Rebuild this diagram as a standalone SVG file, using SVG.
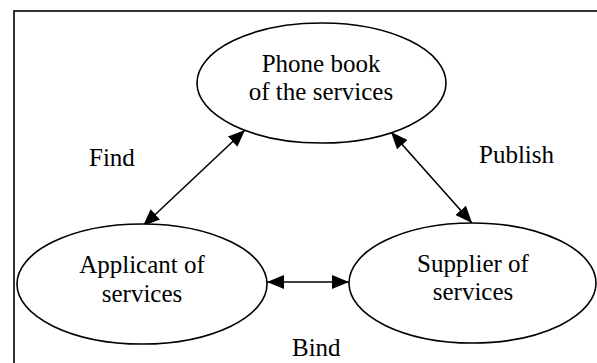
<svg xmlns="http://www.w3.org/2000/svg" width="597" height="363" viewBox="0 0 597 363">
  <style>
    .frame { fill: none; stroke: #000; stroke-width: 1.6; }
    .node ellipse { fill: #fff; stroke: #000; stroke-width: 1.6; }
    .lbl { font-family: "Liberation Serif", "Times New Roman", serif; font-size: 25px; fill: #000; }
    .node text { text-anchor: middle; }
    .edge { stroke: #000; stroke-width: 1.6; fill: none; marker-start: url(#head); marker-end: url(#head); }
  </style>
  <defs>
    <marker id="head" viewBox="0 0 17 14" refX="17" refY="7" markerWidth="17" markerHeight="14" markerUnits="userSpaceOnUse" orient="auto-start-reverse">
      <path d="M0,0 L17,7 L0,14 Z" fill="#000"/>
    </marker>
  </defs>

  <rect class="frame" x="14" y="11" width="620" height="400"/>

  <g id="connectors">
    <line class="edge" x1="143" y1="226" x2="245" y2="130"/>
    <line class="edge" x1="391" y1="132" x2="472" y2="223"/>
    <line class="edge" x1="267" y1="282" x2="349" y2="282"/>
  </g>

  <g id="phonebook" class="node">
    <ellipse cx="321.5" cy="83" rx="124.5" ry="60"/>
    <text class="lbl" x="321" y="72">Phone book</text>
    <text class="lbl" x="321" y="100">of the services</text>
  </g>

  <g id="applicant" class="node">
    <ellipse cx="142" cy="284" rx="125" ry="60"/>
    <text class="lbl" x="142" y="273">Applicant of</text>
    <text class="lbl" x="142" y="302">services</text>
  </g>

  <g id="supplier" class="node">
    <ellipse cx="472.5" cy="283" rx="123.5" ry="60"/>
    <text class="lbl" x="473" y="272">Supplier of</text>
    <text class="lbl" x="473" y="300">services</text>
  </g>

  <g id="edge-labels">
    <text class="lbl" x="89" y="166">Find</text>
    <text class="lbl" x="479" y="163">Publish</text>
    <text class="lbl" x="292" y="356">Bind</text>
  </g>
</svg>
